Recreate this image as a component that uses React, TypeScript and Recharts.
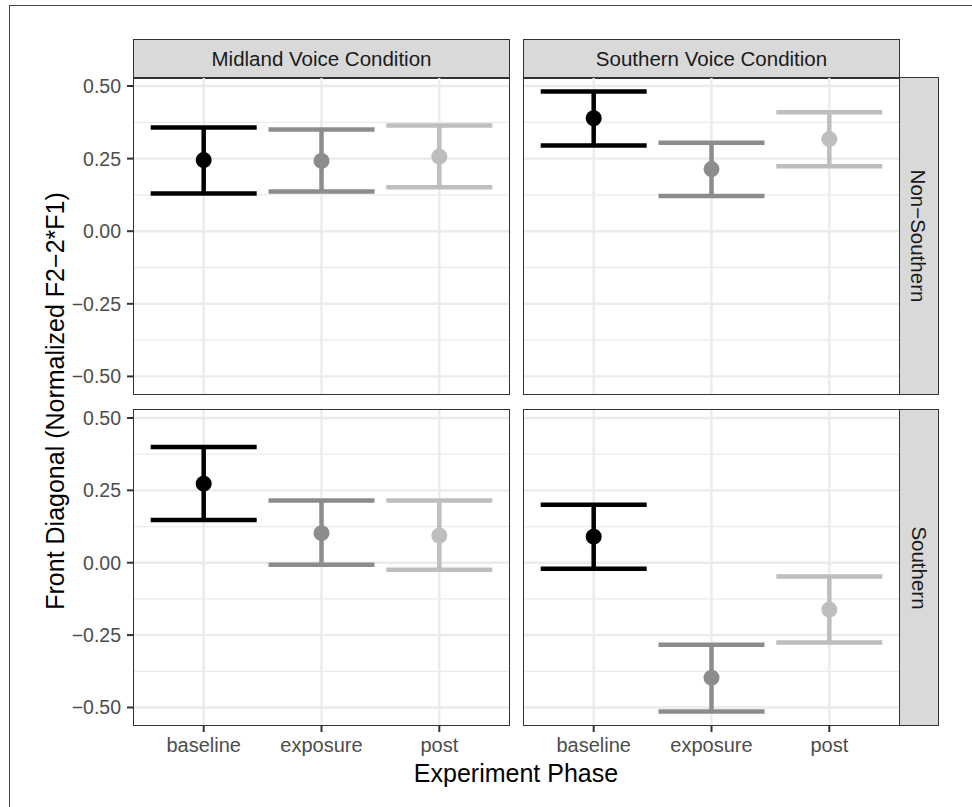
import { ScatterChart, Scatter, XAxis, YAxis, CartesianGrid, ErrorBar } from "recharts";

const PHASES = ["baseline", "exposure", "post"];
const PHASE_COLORS = ["#000000", "#8c8c8c", "#bebebe"];
const VOICE_CONDITIONS = ["Midland Voice Condition", "Southern Voice Condition"];
const LISTENER_GROUPS = ["Non\u2212Southern", "Southern"];

// order in every array: baseline, exposure, post
const midlandNonSouthernMean = [0.245, 0.242, 0.257];
const midlandNonSouthernLow = [0.13, 0.137, 0.151];
const midlandNonSouthernHigh = [0.357, 0.35, 0.364];

const southernNonSouthernMean = [0.389, 0.214, 0.317];
const southernNonSouthernLow = [0.295, 0.121, 0.224];
const southernNonSouthernHigh = [0.481, 0.305, 0.41];

const midlandSouthernMean = [0.273, 0.102, 0.094];
const midlandSouthernLow = [0.148, -0.007, -0.024];
const midlandSouthernHigh = [0.4, 0.215, 0.215];

const southernSouthernMean = [0.09, -0.397, -0.162];
const southernSouthernLow = [-0.021, -0.514, -0.276];
const southernSouthernHigh = [0.2, -0.283, -0.048];

const Y_TICKS = [-0.5, -0.25, 0, 0.25, 0.5];
const Y_MINOR = [-0.375, -0.125, 0.125, 0.375];
const X_TICKS = [1, 2, 3];

const FONT = "'Liberation Sans', Arial, Helvetica, sans-serif";
const Y_DOMAIN: [number, number] = [-0.564, 0.531];

const COL_LEFT = [133, 523];
const ROW_TOP = [77, 409];
const PLOT_W = 377;
const PLOT_H = [318, 317];
const Y_AXIS_W = 70;
const X_AXIS_H = 40;
const PAD = 14; // room above/below the plot so edge tick labels are not clipped

const fmtY = (v: number) => (v < 0 ? "\u2212" + Math.abs(v).toFixed(2) : v.toFixed(2));

interface PanelProps {
  mean: number[];
  low: number[];
  high: number[];
  col: number;
  row: number;
}

function Panel({ mean, low, high, col, row }: PanelProps) {
  const showY = col === 0;
  const showX = row === 1;
  const width = PLOT_W + (showY ? Y_AXIS_W : 0);
  const height = PLOT_H[row] + (showX ? X_AXIS_H : PAD) + PAD;
  const left = COL_LEFT[col] - (showY ? Y_AXIS_W : 0);

  return (
    <div style={{ position: "absolute", left, top: ROW_TOP[row] - PAD }}>
      <ScatterChart
        width={width}
        height={height}
        margin={{ top: PAD, right: 0, bottom: showX ? 0 : PAD, left: 0 }}
      >
        <CartesianGrid
          horizontalValues={Y_MINOR}
          vertical={false}
          stroke="#ebebeb"
          strokeWidth={1.3}
        />
        <CartesianGrid
          horizontalValues={Y_TICKS}
          verticalValues={X_TICKS}
          stroke="#ebebeb"
          strokeWidth={2.4}
        />
        <XAxis
          type="number"
          dataKey="x"
          domain={[0.4, 3.6]}
          ticks={X_TICKS}
          tickFormatter={(i: number) => PHASES[i - 1]}
          hide={!showX}
          height={X_AXIS_H}
          axisLine={false}
          tickSize={6}
          tickMargin={6}
          tickLine={{ stroke: "#333333", strokeWidth: 2 }}
          tick={{ fill: "#4d4d4d", fontSize: 20 }}
          interval={0}
        />
        <YAxis
          type="number"
          dataKey="y"
          domain={Y_DOMAIN}
          allowDataOverflow
          ticks={Y_TICKS}
          tickFormatter={fmtY}
          hide={!showY}
          width={Y_AXIS_W}
          axisLine={false}
          tickSize={6}
          tickMargin={6}
          tickLine={{ stroke: "#333333", strokeWidth: 2 }}
          tick={{ fill: "#4d4d4d", fontSize: 19.5 }}
          interval={0}
        />
        {PHASES.map((phase, i) => (
          <Scatter
            key={phase}
            name={phase}
            data={[{ x: i + 1, y: mean[i], err: [mean[i] - low[i], high[i] - mean[i]] }]}
            fill={PHASE_COLORS[i]}
            isAnimationActive={false}
            shape={(p: any) => <circle cx={p.cx} cy={p.cy} r={8} fill={PHASE_COLORS[i]} />}
          >
            <ErrorBar
              dataKey="err"
              direction="y"
              width={53}
              stroke={PHASE_COLORS[i]}
              strokeWidth={4.5}
              isAnimationActive={false}
            />
          </Scatter>
        ))}
      </ScatterChart>
      <div
        style={{
          position: "absolute",
          left: showY ? Y_AXIS_W : 0,
          top: PAD,
          width: PLOT_W,
          height: PLOT_H[row],
          border: "1.5px solid #333333",
          boxSizing: "border-box",
          pointerEvents: "none",
        }}
      />
    </div>
  );
}

const stripBase = {
  position: "absolute" as const,
  background: "#d9d9d9",
  border: "1.5px solid #333333",
  boxSizing: "border-box" as const,
  color: "#1a1a1a",
  fontSize: 20.5,
  display: "flex",
  alignItems: "center",
  justifyContent: "center",
  whiteSpace: "nowrap" as const,
};

export default function App() {
  return (
    <div
      style={{
        position: "absolute",
        left: 0,
        top: 0,
        width: 972,
        height: 807,
        overflow: "hidden",
        background: "#ffffff",
        fontFamily: FONT,
      }}
    >
      {/* outer frame */}
      <div
        style={{
          position: "absolute",
          left: 9,
          top: 5,
          width: 1000,
          height: 900,
          border: "1.3px solid #444444",
        }}
      />

      {/* column strips */}
      {VOICE_CONDITIONS.map((name, c) => (
        <div key={name} style={{ ...stripBase, left: COL_LEFT[c], top: 39, width: PLOT_W, height: 39.5 }}>
          {name}
        </div>
      ))}

      {/* row strips */}
      {LISTENER_GROUPS.map((name, r) => (
        <div
          key={name}
          style={{ ...stripBase, left: COL_LEFT[1] + PLOT_W - 1, top: ROW_TOP[r], width: 39.5, height: PLOT_H[r] }}
        >
          <span style={{ transform: "rotate(90deg)", display: "inline-block" }}>{name}</span>
        </div>
      ))}

      <Panel mean={midlandNonSouthernMean} low={midlandNonSouthernLow} high={midlandNonSouthernHigh} col={0} row={0} />
      <Panel mean={southernNonSouthernMean} low={southernNonSouthernLow} high={southernNonSouthernHigh} col={1} row={0} />
      <Panel mean={midlandSouthernMean} low={midlandSouthernLow} high={midlandSouthernHigh} col={0} row={1} />
      <Panel mean={southernSouthernMean} low={southernSouthernLow} high={southernSouthernHigh} col={1} row={1} />

      {/* axis titles */}
      <div
        style={{
          position: "absolute",
          left: 55,
          top: 401,
          transform: "translate(-50%, -50%) rotate(-90deg)",
          fontSize: 25,
          whiteSpace: "nowrap",
          color: "#000000",
        }}
      >
        Front Diagonal (Normalized F2{"\u2212"}2*F1)
      </div>
      <div
        style={{
          position: "absolute",
          left: 516,
          top: 773,
          transform: "translate(-50%, -50%)",
          fontSize: 25,
          whiteSpace: "nowrap",
          color: "#000000",
        }}
      >
        Experiment Phase
      </div>
    </div>
  );
}
